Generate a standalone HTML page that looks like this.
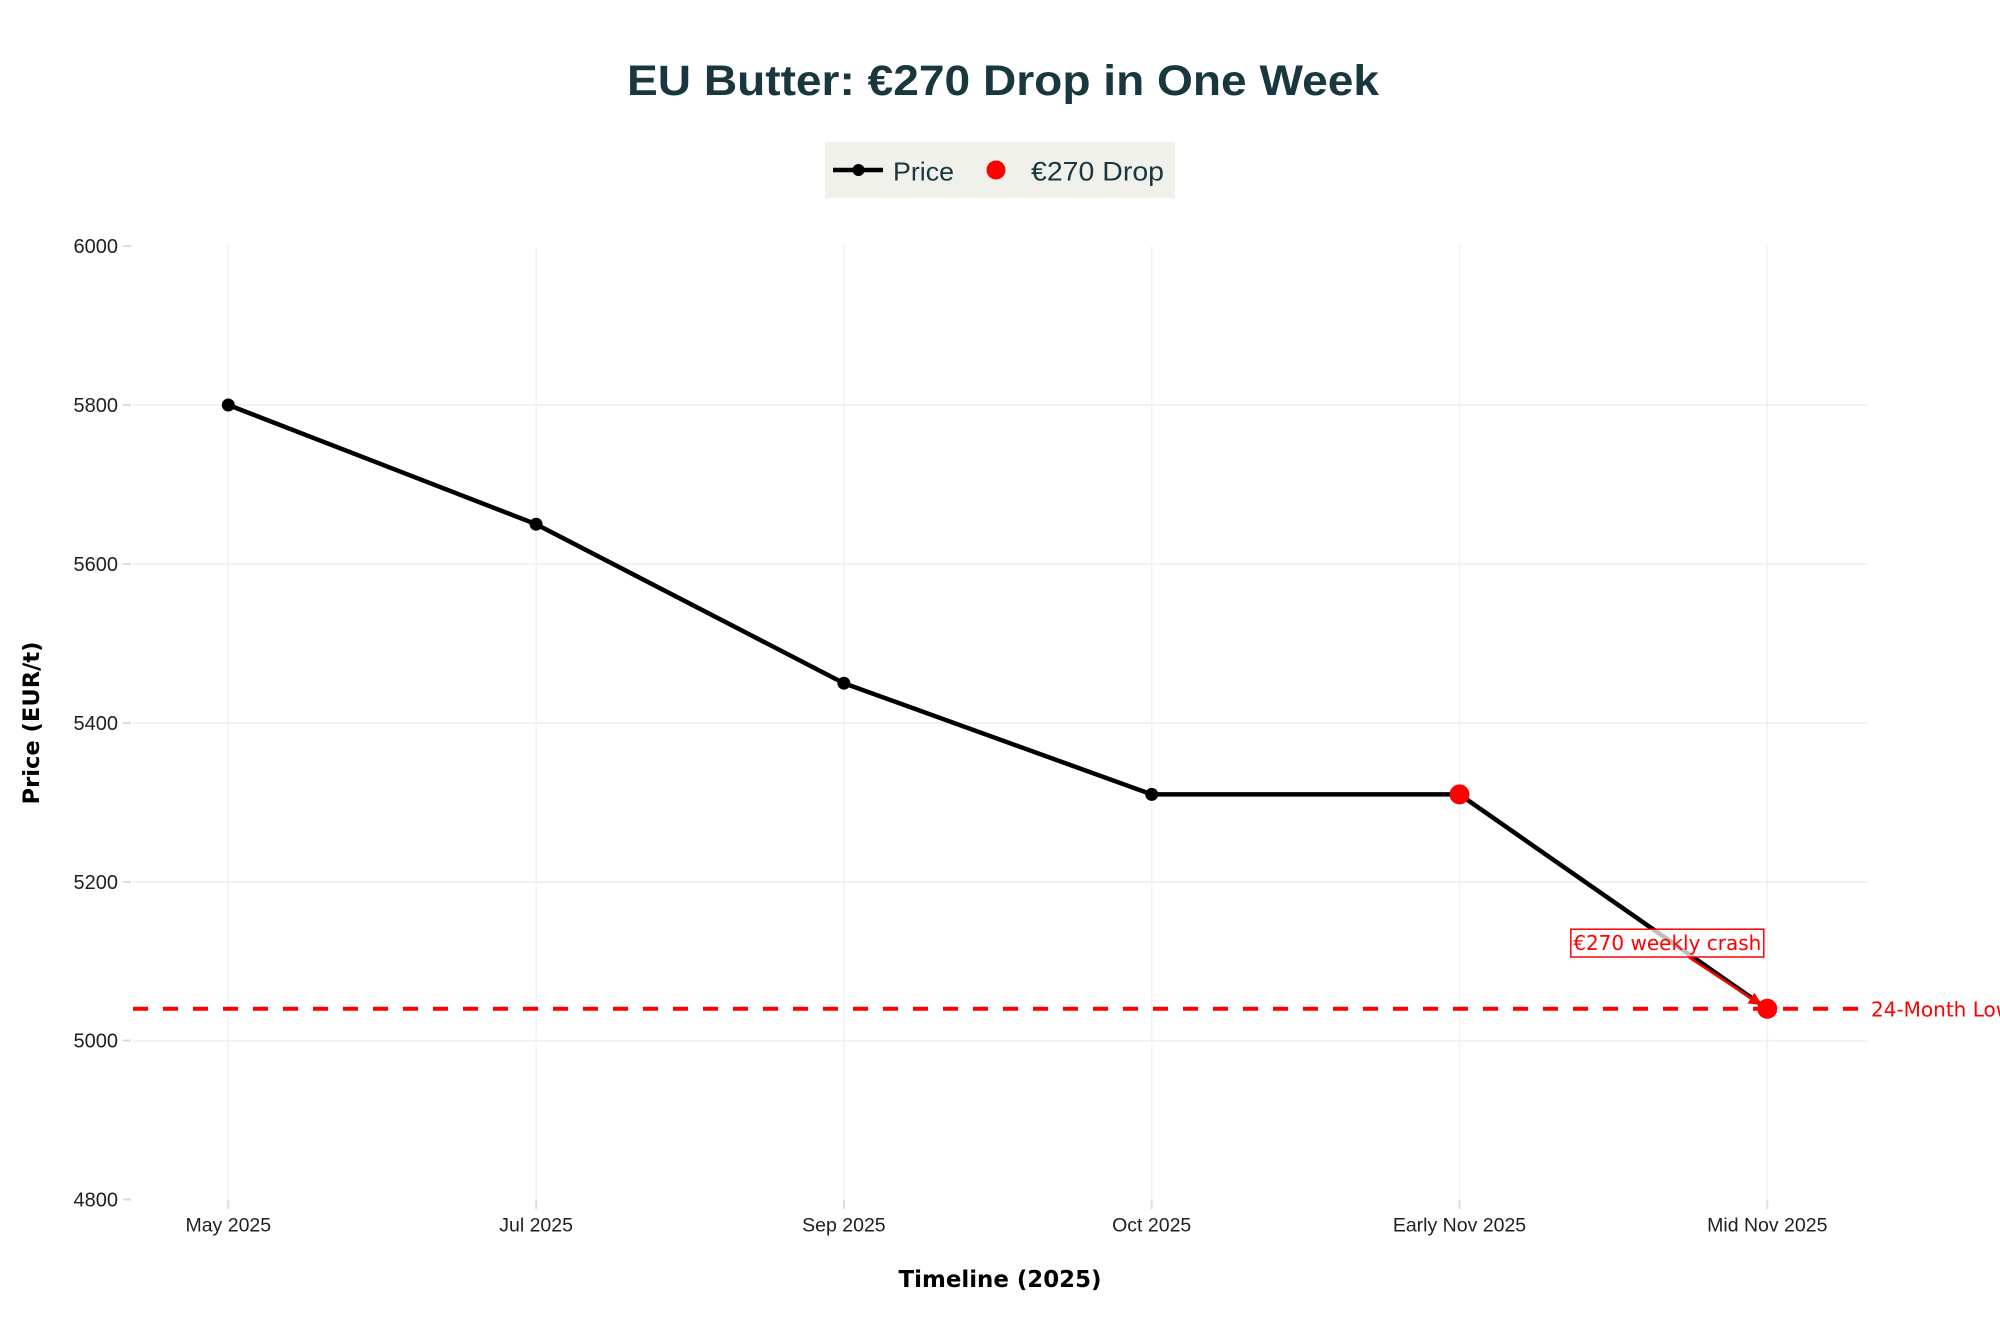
<!DOCTYPE html>
<html>
<head>
<meta charset="utf-8">
<style>
  html,body{margin:0;padding:0;background:#ffffff;}
  svg{display:block;}
</style>
</head>
<body>
<svg width="2000" height="1333" viewBox="0 0 2000 1333" xmlns="http://www.w3.org/2000/svg">
  <rect x="0" y="0" width="2000" height="1333" fill="#ffffff"/>

  <!-- Title -->
  <text x="627" y="95" font-family="Liberation Sans, Arial, sans-serif" font-weight="bold" font-size="43" fill="#18373f" textLength="752" lengthAdjust="spacingAndGlyphs">EU Butter: €270 Drop in One Week</text>

  <!-- Legend -->
  <rect x="825" y="142" width="350" height="56" fill="#f1f1ec"/>
  <line x1="833" y1="170" x2="883" y2="170" stroke="#000" stroke-width="4.5"/>
  <circle cx="858.5" cy="170" r="6" fill="#000"/>
  <text x="893" y="180.5" font-family="Liberation Sans, Arial, sans-serif" font-size="26" fill="#18373f" textLength="61" lengthAdjust="spacingAndGlyphs">Price</text>
  <circle cx="996" cy="170" r="9.5" fill="#ff0000"/>
  <text x="1031" y="180.5" font-family="Liberation Sans, Arial, sans-serif" font-size="27" fill="#18373f" textLength="133" lengthAdjust="spacingAndGlyphs">€270 Drop</text>

  <!-- Gridlines vertical -->
  <g stroke="#f3f3f3" stroke-width="1.5">
    <line x1="228.3" y1="246" x2="228.3" y2="1200"/>
    <line x1="536.1" y1="246" x2="536.1" y2="1200"/>
    <line x1="843.9" y1="246" x2="843.9" y2="1200"/>
    <line x1="1151.7" y1="246" x2="1151.7" y2="1200"/>
    <line x1="1459.5" y1="246" x2="1459.5" y2="1200"/>
    <line x1="1767.3" y1="246" x2="1767.3" y2="1200"/>
  </g>
  <!-- Gridlines horizontal -->
  <g stroke="#f1f1f1" stroke-width="1.8">
    <line x1="133" y1="405" x2="1867" y2="405"/>
    <line x1="133" y1="564" x2="1867" y2="564"/>
    <line x1="133" y1="723" x2="1867" y2="723"/>
    <line x1="133" y1="882" x2="1867" y2="882"/>
    <line x1="133" y1="1040.6" x2="1867" y2="1040.6"/>
  </g>

  <!-- Y ticks -->
  <g stroke="#dddddd" stroke-width="2">
    <line x1="123" y1="246" x2="131" y2="246"/>
    <line x1="123" y1="405" x2="131" y2="405"/>
    <line x1="123" y1="564" x2="131" y2="564"/>
    <line x1="123" y1="723" x2="131" y2="723"/>
    <line x1="123" y1="882" x2="131" y2="882"/>
    <line x1="123" y1="1040.6" x2="131" y2="1040.6"/>
    <line x1="123" y1="1199.5" x2="131" y2="1199.5"/>
  </g>
  <!-- X ticks -->
  <g stroke="#e4dcdc" stroke-width="2">
    <line x1="228.3" y1="1200" x2="228.3" y2="1209"/>
    <line x1="536.1" y1="1200" x2="536.1" y2="1209"/>
    <line x1="843.9" y1="1200" x2="843.9" y2="1209"/>
    <line x1="1151.7" y1="1200" x2="1151.7" y2="1209"/>
    <line x1="1459.5" y1="1200" x2="1459.5" y2="1209"/>
    <line x1="1767.3" y1="1200" x2="1767.3" y2="1209"/>
  </g>

  <!-- Y tick labels -->
  <g font-family="Liberation Sans, Arial, sans-serif" font-size="20" fill="#1f1f1f" text-anchor="end">
    <text x="118" y="253">6000</text>
    <text x="118" y="412">5800</text>
    <text x="118" y="571">5600</text>
    <text x="118" y="730">5400</text>
    <text x="118" y="889">5200</text>
    <text x="118" y="1047.6">5000</text>
    <text x="118" y="1206.5">4800</text>
  </g>

  <!-- X tick labels -->
  <g font-family="Liberation Sans, Arial, sans-serif" font-size="19.5" fill="#1f1f1f" text-anchor="middle">
    <text x="228.3" y="1231.5">May 2025</text>
    <text x="536.1" y="1231.5">Jul 2025</text>
    <text x="843.9" y="1231.5">Sep 2025</text>
    <text x="1151.7" y="1231.5">Oct 2025</text>
    <text x="1459.5" y="1231.5">Early Nov 2025</text>
    <text x="1767.3" y="1231.5">Mid Nov 2025</text>
  </g>

  <!-- Axis titles -->
  <text x="1000" y="1287" font-family="DejaVu Sans, sans-serif" font-weight="bold" font-size="23" fill="#000" text-anchor="middle" textLength="203" lengthAdjust="spacingAndGlyphs">Timeline (2025)</text>
  <text transform="translate(39,723) rotate(-90)" font-family="DejaVu Sans, sans-serif" font-weight="bold" font-size="22.5" fill="#000" text-anchor="middle" textLength="163" lengthAdjust="spacingAndGlyphs">Price (EUR/t)</text>

  <!-- Price line -->
  <polyline points="228.3,405 536.1,524.2 843.9,683.2 1151.7,794.4 1459.5,794.4 1767.3,1008.8" fill="none" stroke="#000" stroke-width="4.5" stroke-linejoin="round"/>
  <g fill="#000">
    <circle cx="228.3" cy="405" r="6.5"/>
    <circle cx="536.1" cy="524.2" r="6.5"/>
    <circle cx="843.9" cy="683.2" r="6.5"/>
    <circle cx="1151.7" cy="794.4" r="6.5"/>
  </g>

  <!-- 24-month low dashed line -->
  <line x1="133" y1="1008.8" x2="1867" y2="1008.8" stroke="#ff0000" stroke-width="4" stroke-dasharray="15,15"/>
  <text x="1871" y="1016.5" font-family="DejaVu Sans, sans-serif" font-size="20" fill="#ff0000">24-Month Low</text>

  <!-- Red drop markers -->
  <circle cx="1459.5" cy="794.4" r="10" fill="#ff0000"/>
  <circle cx="1767.3" cy="1008.8" r="10" fill="#ff0000"/>

  <!-- Annotation -->
  <line x1="1689" y1="957.3" x2="1753" y2="999.4" stroke="#ff0000" stroke-width="2.5"/>
  <polygon points="1762,1005 1747.5,1003.5 1754.5,992.8" fill="#ff0000"/>
  <rect x="1570.8" y="929.2" width="193" height="27.8" fill="rgba(255,255,255,0.75)" stroke="#ff0000" stroke-width="1.5"/>
  <text x="1667.3" y="950" font-family="DejaVu Sans, sans-serif" font-size="20" fill="#ff0000" text-anchor="middle">€270 weekly crash</text>
</svg>
</body>
</html>
